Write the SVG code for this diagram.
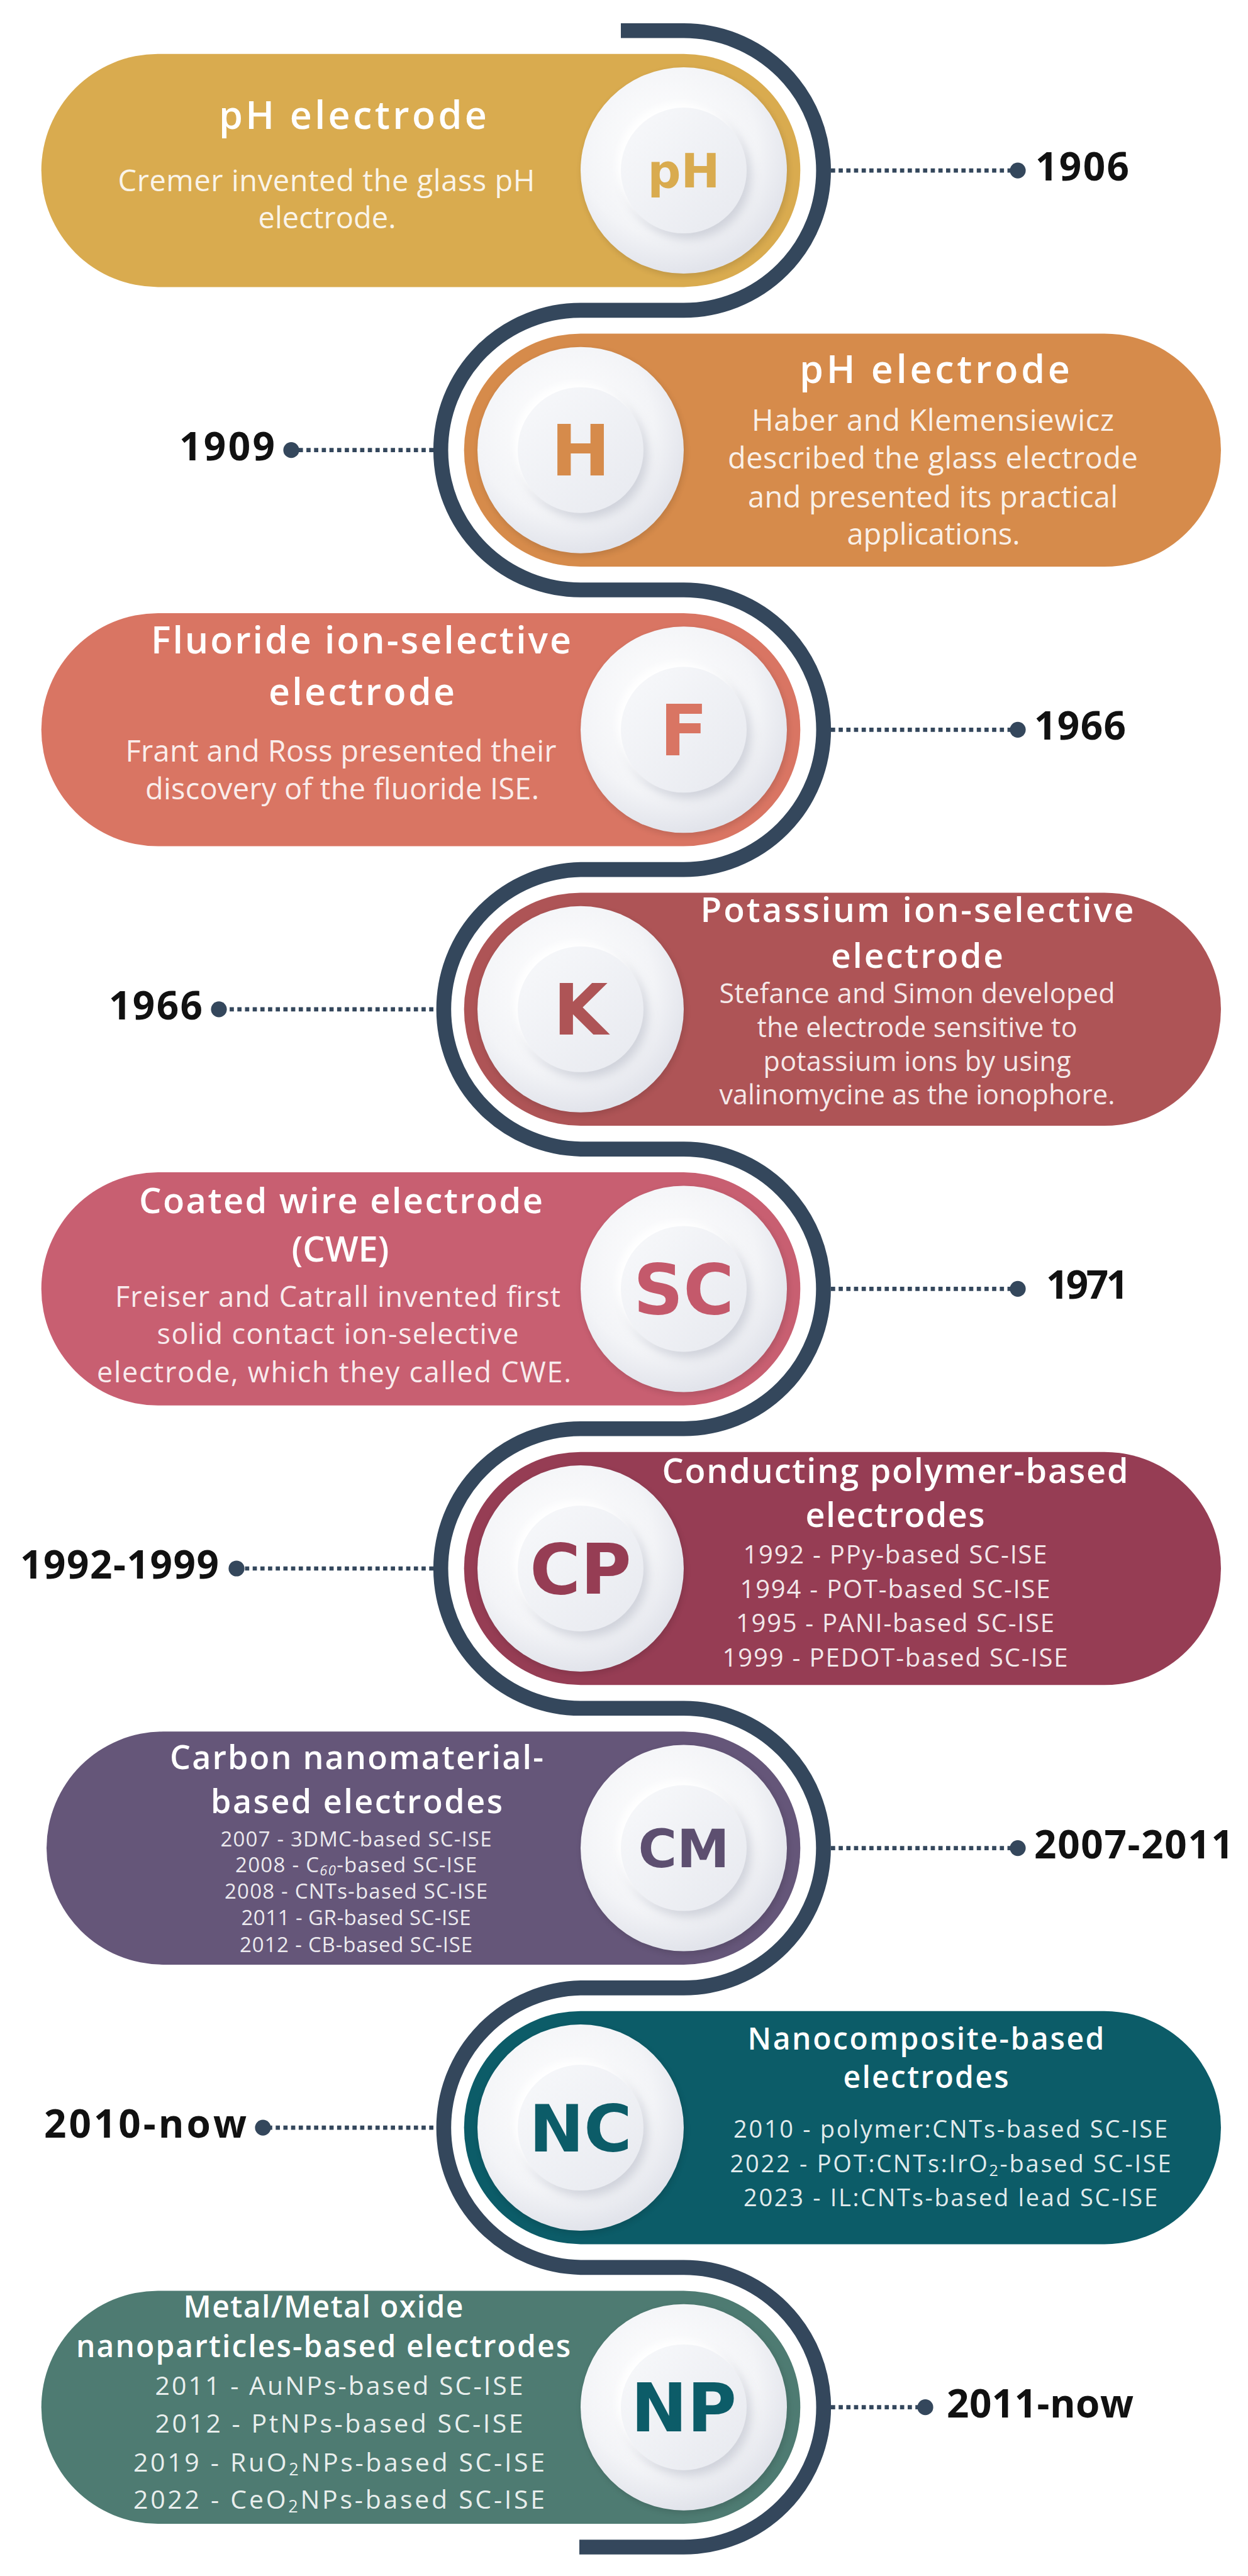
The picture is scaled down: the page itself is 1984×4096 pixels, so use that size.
<svg xmlns="http://www.w3.org/2000/svg" xmlns:xlink="http://www.w3.org/1999/xlink" width="1984" height="4096" viewBox="0 0 1984 4096">
<defs>
<style>
.title{font-family:"Open Sans","Liberation Sans",sans-serif;font-weight:600;fill:#ffffff;text-anchor:middle}
.body{font-family:"Open Sans","Liberation Sans",sans-serif;font-weight:400;fill:#ffffff;fill-opacity:0.9;text-anchor:middle}
.year{font-family:"Open Sans","Liberation Sans",sans-serif;font-weight:700;fill:#111111;font-size:62px}
.ys{text-anchor:start}
.ye{text-anchor:end}
.letter{font-family:"DejaVu Sans","Liberation Sans",sans-serif;font-weight:700;text-anchor:middle}
.snake{fill:none;stroke:#34475c;stroke-width:23.6}
.dotline{fill:none;stroke:#34475c;stroke-width:6.7;stroke-dasharray:6.7 5.5}
.dot{fill:#34475c}
</style>
<radialGradient id="gOuter" cx="42%" cy="38%" r="62%">
<stop offset="0" stop-color="#ffffff"/>
<stop offset="0.7" stop-color="#f3f4f7"/>
<stop offset="1" stop-color="#e2e4eb"/>
</radialGradient>
<linearGradient id="gInner" x1="0" y1="0" x2="1" y2="1">
<stop offset="0" stop-color="#f8f9fb"/>
<stop offset="1" stop-color="#e7e9ef"/>
</linearGradient>
<filter id="blurA" x="-40%" y="-40%" width="180%" height="180%"><feGaussianBlur stdDeviation="8"/></filter>
<filter id="blurB" x="-40%" y="-40%" width="180%" height="180%"><feGaussianBlur stdDeviation="5"/></filter>
<g id="disc">
<circle r="165" cx="2" cy="4" fill="#000000" opacity="0.10" filter="url(#blurB)"/>
<circle r="164" fill="url(#gOuter)"/>
<circle r="100" cx="7" cy="9" fill="#b8bcc8" opacity="0.6" filter="url(#blurA)"/>
<circle r="100" cx="-6" cy="-7" fill="#ffffff" filter="url(#blurB)"/>
<circle r="100" fill="url(#gInner)"/>
</g>
</defs>
<rect width="1984" height="4096" fill="#ffffff"/>

<g id="connectors">
<path class="snake" d="M987 48.8 H1087 A222.3 222.3 0 0 1 1087 493.4 H923 A222.3 222.3 0 0 0 923 938 H1087 A222.3 222.3 0 0 1 1087 1382.6 H923 A222.3 222.3 0 0 0 923 1827.1 H1087 A222.3 222.3 0 0 1 1087 2271.7 H923 A222.3 222.3 0 0 0 923 2716.3 H1087 A222.3 222.3 0 0 1 1087 3160.9 H923 A222.3 222.3 0 0 0 923 3605.4 H1087 A222.3 222.3 0 0 1 1087 4050 H921"/>
<path class="dotline" d="M1321 271.1 H1618"/><circle class="dot" cx="1618" cy="271.1" r="12.6"/>
<path class="dotline" d="M689 715.7 H463"/><circle class="dot" cx="463" cy="715.7" r="12.6"/>
<path class="dotline" d="M1321 1160.3 H1618"/><circle class="dot" cx="1618" cy="1160.3" r="12.6"/>
<path class="dotline" d="M689 1604.8 H348"/><circle class="dot" cx="348" cy="1604.8" r="12.6"/>
<path class="dotline" d="M1321 2049.4 H1618"/><circle class="dot" cx="1618" cy="2049.4" r="12.6"/>
<path class="dotline" d="M689 2494 H376"/><circle class="dot" cx="376" cy="2494" r="12.6"/>
<path class="dotline" d="M1321 2938.6 H1618"/><circle class="dot" cx="1618" cy="2938.6" r="12.6"/>
<path class="dotline" d="M689 3383.1 H418"/><circle class="dot" cx="418" cy="3383.1" r="12.6"/>
<path class="dotline" d="M1321 3827.7 H1471"/><circle class="dot" cx="1471" cy="3827.7" r="12.6"/>
</g>

<g id="node-ph-1906">
<rect x="65.7" y="85.8" width="1206.6" height="370.6" rx="185.3" fill="#d9ab4f"/>
<text class="title" x="561" y="204.6" font-size="61" textLength="426">pH electrode</text>
<text class="body" x="519" y="304" font-size="47" textLength="663">Cremer invented the glass pH</text>
<text class="body" x="520" y="363" font-size="47" textLength="219">electrode.</text>
<use href="#disc" x="1087" y="271.1"/>
<text class="letter" x="1087" y="297.7" font-size="74" fill="#d9ab4f">pH</text>
<text class="year ys" x="1646" y="287" textLength="149">1906</text>
</g>

<g id="node-h-1909">
<rect x="737.7" y="530.4" width="1203.3" height="370.6" rx="185.3" fill="#d68b4b"/>
<text class="title" x="1486" y="609" font-size="61" textLength="430">pH electrode</text>
<text class="body" x="1483" y="685" font-size="47" textLength="576">Haber and Klemensiewicz</text>
<text class="body" x="1483" y="745" font-size="47" textLength="652">described the glass electrode</text>
<text class="body" x="1483" y="807" font-size="47" textLength="588">and presented its practical</text>
<text class="body" x="1484" y="866" font-size="47" textLength="275">applications.</text>
<use href="#disc" x="923" y="715.7"/>
<text class="letter" x="923" y="756.4" font-size="113" fill="#d68b4b">H</text>
<text class="year ye" x="437" y="731.7" textLength="152">1909</text>
</g>

<g id="node-f-1966">
<rect x="65.7" y="975" width="1206.6" height="370.6" rx="185.3" fill="#d97563"/>
<text class="title" x="574" y="1039" font-size="59" textLength="668">Fluoride ion-selective</text>
<text class="title" x="575" y="1121" font-size="59" textLength="296">electrode</text>
<text class="body" x="542" y="1211" font-size="47" textLength="685">Frant and Ross presented their</text>
<text class="body" x="544" y="1271" font-size="47" textLength="626">discovery of the fluoride ISE.</text>
<use href="#disc" x="1087" y="1160.3"/>
<text class="letter" x="1087" y="1200.6" font-size="112" fill="#d97563">F</text>
<text class="year ys" x="1644" y="1176.3" textLength="146">1966</text>
</g>

<g id="node-k-1966">
<rect x="737.7" y="1419.5" width="1203.3" height="370.6" rx="185.3" fill="#ae5456"/>
<text class="title" x="1458" y="1466" font-size="55" textLength="689">Potassium ion-selective</text>
<text class="title" x="1458" y="1539" font-size="55" textLength="274">electrode</text>
<text class="body" x="1458" y="1595" font-size="43" textLength="629">Stefance and Simon developed</text>
<text class="body" x="1458" y="1649" font-size="43" textLength="509">the electrode sensitive to</text>
<text class="body" x="1458" y="1703" font-size="43" textLength="489">potassium ions by using</text>
<text class="body" x="1458" y="1756" font-size="43" textLength="629">valinomycine as the ionophore.</text>
<use href="#disc" x="923" y="1604.8"/>
<text class="letter" x="923" y="1645" font-size="112" fill="#ae5456">K</text>
<text class="year ye" x="322" y="1620.8" textLength="149">1966</text>
</g>

<g id="node-sc-1971">
<rect x="65.7" y="1864.1" width="1206.6" height="370.6" rx="185.3" fill="#c85f71"/>
<text class="title" x="542" y="1929" font-size="56" textLength="642">Coated wire electrode</text>
<text class="title" x="541" y="2006" font-size="56">(CWE)</text>
<text class="body" x="537" y="2078" font-size="45" textLength="708">Freiser and Catrall invented first</text>
<text class="body" x="537" y="2137" font-size="45" textLength="575">solid contact ion-selective</text>
<text class="body" x="531" y="2198" font-size="45" textLength="754">electrode, which they called CWE.</text>
<use href="#disc" x="1087" y="2049.4"/>
<text class="letter" x="1087" y="2089" font-size="110" fill="#c4596b">SC</text>
<text class="year ys" x="1663" y="2065.4" textLength="131">1971</text>
</g>

<g id="node-cp-1992">
<rect x="737.7" y="2308.7" width="1203.3" height="370.6" rx="185.3" fill="#963d54"/>
<text class="title" x="1423" y="2358" font-size="54" textLength="741">Conducting polymer-based</text>
<text class="title" x="1423" y="2428" font-size="54" textLength="285">electrodes</text>
<text class="body" x="1423" y="2486" font-size="40" textLength="483">1992 - PPy-based SC-ISE</text>
<text class="body" x="1423" y="2541" font-size="40" textLength="493">1994 - POT-based SC-ISE</text>
<text class="body" x="1423" y="2595" font-size="40" textLength="506">1995 - PANI-based SC-ISE</text>
<text class="body" x="1423" y="2650" font-size="40" textLength="549">1999 - PEDOT-based SC-ISE</text>
<use href="#disc" x="923" y="2494"/>
<text class="letter" x="923" y="2534" font-size="110" fill="#963d54">CP</text>
<text class="year ye" x="348" y="2510" textLength="316">1992-1999</text>
</g>

<g id="node-cm-2007">
<rect x="74" y="2753.3" width="1198.3" height="370.6" rx="185.3" fill="#655679"/>
<text class="title" x="567" y="2813" font-size="52" textLength="594">Carbon nanomaterial-</text>
<text class="title" x="567" y="2883" font-size="52" textLength="464">based electrodes</text>
<text class="body" x="566" y="2936" font-size="33" textLength="431">2007 - 3DMC-based SC-ISE</text>
<text class="body" x="566" y="2977" font-size="33" textLength="384">2008 - C<tspan font-size="22" baseline-shift="-5" font-style="italic">60</tspan>-based SC-ISE</text>
<text class="body" x="566" y="3019" font-size="33" textLength="418">2008 - CNTs-based SC-ISE</text>
<text class="body" x="566" y="3061" font-size="33" textLength="365">2011 - GR-based SC-ISE</text>
<text class="body" x="566" y="3104" font-size="33" textLength="370">2012 - CB-based SC-ISE</text>
<use href="#disc" x="1087" y="2938.6"/>
<text class="letter" x="1087" y="2969" font-size="84" fill="#5d4f70">CM</text>
<text class="year ys" x="1644" y="2954.6" textLength="317">2007-2011</text>
</g>

<g id="node-nc-2010">
<rect x="737.7" y="3197.8" width="1203.3" height="370.6" rx="185.3" fill="#0c5c68"/>
<text class="title" x="1472" y="3259" font-size="48" textLength="567">Nanocomposite-based</text>
<text class="title" x="1472" y="3320" font-size="48" textLength="263">electrodes</text>
<text class="body" x="1511" y="3399" font-size="38" textLength="690">2010 - polymer:CNTs-based SC-ISE</text>
<text class="body" x="1511" y="3454" font-size="38" textLength="701">2022 - POT:CNTs:IrO<tspan font-size="25" baseline-shift="-6">2</tspan>-based SC-ISE</text>
<text class="body" x="1511" y="3508" font-size="38" textLength="658">2023 - IL:CNTs-based lead SC-ISE</text>
<use href="#disc" x="923" y="3383.1"/>
<text class="letter" x="923" y="3420.5" font-size="104" fill="#0c5c68">NC</text>
<text class="year ye" x="392" y="3399" textLength="322">2010-now</text>
</g>

<g id="node-np-2011">
<rect x="65.7" y="3642.4" width="1206.6" height="370.6" rx="185.3" fill="#4e7b72"/>
<text class="title" x="514" y="3685" font-size="48" textLength="445">Metal/Metal oxide</text>
<text class="title" x="514" y="3748" font-size="48" textLength="786">nanoparticles-based electrodes</text>
<text class="body" x="539" y="3808" font-size="41" textLength="585">2011 - AuNPs-based SC-ISE</text>
<text class="body" x="539" y="3868" font-size="41" textLength="585">2012 - PtNPs-based SC-ISE</text>
<text class="body" x="539" y="3930" font-size="41" textLength="654">2019 - RuO<tspan font-size="27" baseline-shift="-6">2</tspan>NPs-based SC-ISE</text>
<text class="body" x="539" y="3989" font-size="41" textLength="654">2022 - CeO<tspan font-size="27" baseline-shift="-6">2</tspan>NPs-based SC-ISE</text>
<use href="#disc" x="1087" y="3827.7"/>
<text class="letter" x="1087" y="3866.2" font-size="107" fill="#0c5c68">NP</text>
<text class="year ys" x="1505" y="3843.7" textLength="297">2011-now</text>
</g>
</svg>
